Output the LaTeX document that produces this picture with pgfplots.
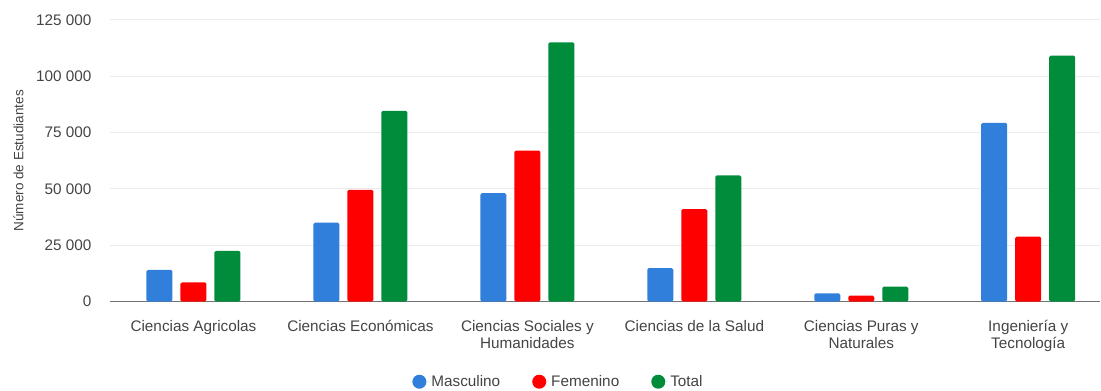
\documentclass[border=0pt]{standalone}
\usepackage{pgfplots}
\pgfplotsset{compat=1.18}
\usepackage{fontspec}
\setmainfont{Liberation Sans}

\definecolor{cblue}{HTML}{2F7FDB}
\definecolor{cred}{HTML}{FF0000}
\definecolor{cgreen}{HTML}{008C3A}
\definecolor{txt}{HTML}{444444}
\definecolor{gridc}{HTML}{EBEBEB}

\pgfplotstableread{
x masc fem total
0 14000 8500 22500
1 35000 49600 84700
2 48100 67000 115100
3 14800 41000 56000
4 3600 2600 6600
5 79300 28800 109200
}\datos

\begin{document}
\begin{tikzpicture}
\begin{axis}[
    scale only axis,
    width=990bp, height=281.5bp,
    xmin=-0.5, xmax=5.43,
    ymin=0, ymax=125000,
    scaled y ticks=false,
    /pgf/number format/assume math mode=true,
    ytick={0,25000,50000,75000,100000,125000},
    yticklabels={0,25 000,50 000,75 000,100 000,125 000},
    xtick=data,
    xticklabels={Ciencias Agricolas, Ciencias Económicas, Ciencias Sociales y\\Humanidades, Ciencias de la Salud, Ciencias Puras y\\Naturales, Ingeniería y\\Tecnología},
    xticklabel style={align=center, text=txt, font=\fontsize{15.3bp}{17bp}\selectfont, anchor=north, yshift=-15bp},
    yticklabel style={text=txt, font=\fontsize{15.3bp}{17bp}\selectfont, xshift=-15bp},
    ymajorgrids,
    grid style={gridc, line width=1bp},
    axis x line*=bottom,
    axis y line*=left,
    y axis line style={draw=none},
    x axis line style={draw=black!55, line width=1.2bp, -},
    major tick length=0pt,
    ylabel={Número de Estudiantes},
    ylabel style={text=txt, font=\fontsize{13.5bp}{15bp}\selectfont, at={(-83bp,0.5)}, anchor=south},
    ybar=8bp,
    bar width=26bp,
    every axis plot/.append style={draw=none, rounded corners=1.5bp},
    legend style={at={(0.453,-0.285)}, anchor=center, draw=none, legend columns=3,
        font=\fontsize{15.3bp}{17bp}\selectfont, text=txt,
        /tikz/every even column/.append style={column sep=30bp}},
    legend image code/.code={\fill[#1] (0bp,0bp) circle (7bp); \path (-7bp,0bp) -- (10bp,0bp);},
    clip=false,
]
\addplot[fill=cblue] table[x=x, y=masc] {\datos};
\addplot[fill=cred] table[x=x, y=fem] {\datos};
\addplot[fill=cgreen] table[x=x, y=total] {\datos};
\legend{Masculino, Femenino, Total}
\end{axis}
\pgfresetboundingbox
\path (-110bp,-89.5bp) rectangle (991bp,301.5bp);
\end{tikzpicture}
\end{document}
